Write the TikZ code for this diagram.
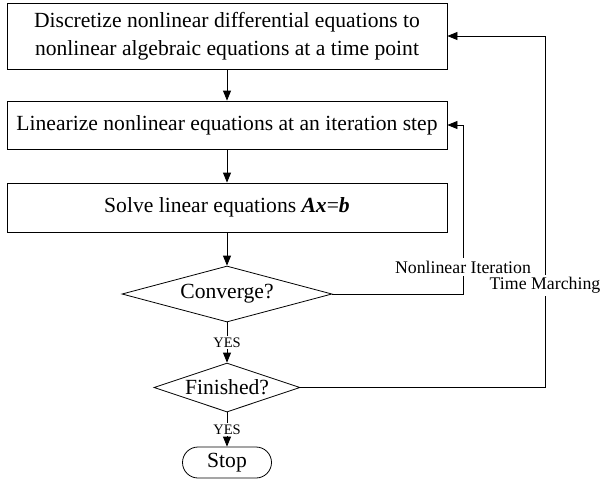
\documentclass[tikz,border=0pt]{standalone}
\usepackage{fontspec}
\setmainfont{Liberation Serif}
\usetikzlibrary{arrows.meta,shapes.geometric,shapes.misc}

\begin{document}
\begin{tikzpicture}[x=1pt,y=1pt,line width=0.8pt,>={Triangle[length=10pt,width=8pt]},
  font=\fontsize{21.6}{28}\selectfont,
  stepbox/.style={draw,rectangle,minimum width=440pt,align=center,inner sep=0pt},
  decision/.style={draw,diamond,inner sep=0pt},
  stopbox/.style={draw,rounded rectangle,minimum width=89pt,minimum height=31pt,inner sep=0pt},
  tag/.style={fill=white,inner sep=1.5pt,font=\fontsize{14.5}{16}\selectfont},
  lbl/.style={fill=white,inner sep=2.5pt,font=\fontsize{17.8}{20}\selectfont}]
\useasboundingbox (0,0) rectangle (601,-480);
% ================= Process steps =================
\node[stepbox,minimum height=66pt] (disc) at (227,-36)
  {Discretize nonlinear differential equations to\\nonlinear algebraic equations at a time point};
\node[stepbox,minimum height=48pt] (lin) at (227,-125)
  {Linearize nonlinear equations at an iteration step};
\node[stepbox,minimum height=49pt] (solve) at (227,-207.5)
  {Solve linear equations \textbf{\textit{Ax}}=\textbf{\textit{b}}};
% ================= Decisions =================
\node[decision,aspect=3.75,minimum width=210pt,minimum height=56pt] (conv) at (227,-294) {Converge?};
\node[decision,aspect=2.9,minimum width=146pt,minimum height=49pt] (fin) at (227,-387.5) {Finished?};
\node[stopbox] (stop) at (227,-462.5) {Stop};
\coordinate (nlturn) at (463,-125);
\coordinate (tmturn) at (545,-36);
% ================= Connectors =================
\draw[->] (disc) -- (lin);
\draw[->] (lin) -- (solve);
\draw[->] (solve) -- (conv);
\draw[->] (conv) -- node[tag] {YES} (fin);
\draw[->] (fin) -- node[tag] {YES} (stop);
\draw[->] (conv.east) -| node[pos=0.58,lbl] {Nonlinear Iteration} (nlturn) -- (lin.east);
\draw[->] (fin.east) -| node[pos=0.645,lbl] {Time Marching} (tmturn) -- (disc.east);
\end{tikzpicture}
\end{document}
